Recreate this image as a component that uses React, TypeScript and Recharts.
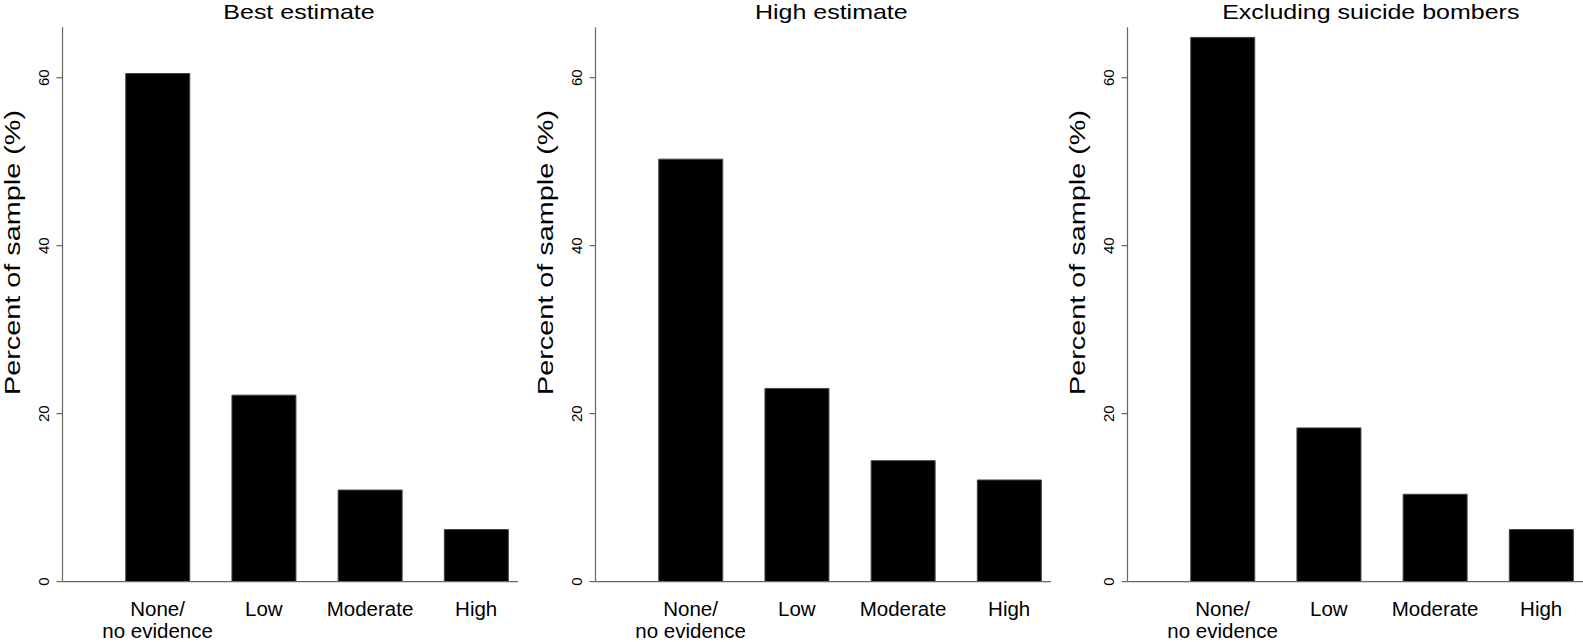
import React from 'react';
import { BarChart, Bar, XAxis, YAxis } from 'recharts';

const categories = ['None/\nno evidence', 'Low', 'Moderate', 'High'];
const bestEstimate = [60.5, 22.2, 10.9, 6.2];
const highEstimate = [50.3, 23.0, 14.4, 12.1];
const excludingBombers = [64.8, 18.3, 10.4, 6.2];
const yTicks = [0, 20, 40, 60];
const panelTitles = ['Best estimate', 'High estimate', 'Excluding suicide bombers'];
const yLabel = 'Percent of sample (%)';

const FONT = '"Liberation Sans", Arial, Helvetica, sans-serif';
const AXIS = '#666';

function YTick({ x, y, payload }: any) {
  return (
    <text x={x} y={y} transform={`rotate(-90 ${x} ${y})`} textAnchor="middle" fontSize={15} fontFamily={FONT} fill="#000">
      {payload.value}
    </text>
  );
}

function XTick({ x, y, payload }: any) {
  const lines = String(payload.value).split('\n');
  return (
    <text x={x} y={y} textAnchor="middle" fontSize={20.5} fontFamily={FONT} fill="#000">
      {lines.map((l, i) => (
        <tspan key={i} x={x} dy={i === 0 ? 34.1 : 22.6}>
          {l}
        </tspan>
      ))}
    </text>
  );
}

function Panel({ title, values, left, titleX }: { title: string; values: number[]; left: number; titleX: number }) {
  const data = categories.map((c, i) => ({ category: c, value: values[i] }));
  return (
    <div style={{ position: 'absolute', left, top: 0 }}>
      <BarChart
        width={533}
        height={642}
        data={data}
        margin={{ top: 27.3, right: 15, bottom: 0, left: 22.5 }}
        barCategoryGap="20%"
      >
        <XAxis
          dataKey="category"
          height={60.4}
          padding={{ left: 42, right: -11.3 }}
          tickLine={false}
          tickSize={0}
          tickMargin={0}
          axisLine={{ stroke: AXIS, strokeWidth: 1.2 }}
          tick={<XTick />}
          interval={0}
        />
        <YAxis
          width={40}
          domain={[0, 66]}
          ticks={yTicks}
          tickSize={6}
          tickMargin={7}
          tickLine={{ stroke: AXIS, strokeWidth: 1.2 }}
          axisLine={{ stroke: AXIS, strokeWidth: 1.2 }}
          tick={<YTick />}
          interval={0}
          allowDataOverflow
        />
        <Bar dataKey="value" fill="#000" stroke="#444" strokeWidth={1} isAnimationActive={false} />
        <text
          transform={`translate(${titleX} 19) scale(1.19 1)`}
          textAnchor="middle"
          fontSize={21}
          fontFamily={FONT}
          fill="#000"
        >
          {title}
        </text>
        <text
          transform="translate(20.2 252.5) rotate(-90) scale(1.31 1)"
          textAnchor="middle"
          fontSize={22}
          fontFamily={FONT}
          fill="#000"
        >
          {yLabel}
        </text>
      </BarChart>
    </div>
  );
}

export default function App() {
  return (
    <div style={{ position: 'absolute', left: 0, top: 0, width: 1583, height: 642, overflow: 'hidden', background: '#fff' }}>
      <Panel title={panelTitles[0]} values={bestEstimate} left={0} titleX={299} />
      <Panel title={panelTitles[1]} values={highEstimate} left={532.5} titleX={298.3} />
      <Panel title={panelTitles[2]} values={excludingBombers} left={1065} titleX={305.8} />
    </div>
  );
}
